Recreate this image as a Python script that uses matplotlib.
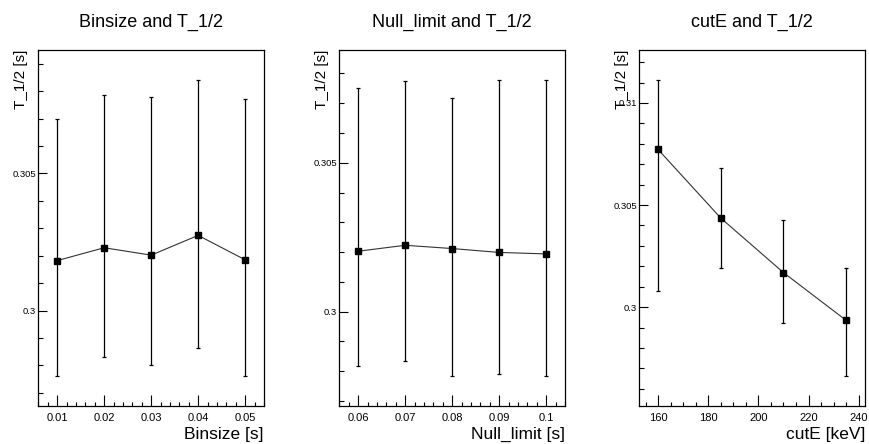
import matplotlib
matplotlib.use("Agg")
import matplotlib.pyplot as plt
from matplotlib.ticker import MultipleLocator, FuncFormatter
import numpy as np

plt.rcParams['font.family'] = ['Liberation Sans', 'DejaVu Sans']

# ---- data ----
binsize = [0.01, 0.02, 0.03, 0.04, 0.05]
t_binsize = [0.30182, 0.30229, 0.30202, 0.30274, 0.30185]
t_binsize_err_up = [0.00518, 0.00558, 0.00575, 0.00568, 0.00588]
t_binsize_err_down = [0.00421, 0.00399, 0.00401, 0.00411, 0.00425]

null_limit = [0.06, 0.07, 0.08, 0.09, 0.10]
t_null = [0.30203, 0.30223, 0.30212, 0.30199, 0.30194]
t_null_err_up = [0.00549, 0.00551, 0.00507, 0.00580, 0.00583]
t_null_err_down = [0.00384, 0.00389, 0.00429, 0.00409, 0.00411]

cutE = [160, 185, 210, 235]
t_cutE = [0.30772, 0.30436, 0.30169, 0.29935]
t_cutE_err_up = [0.00342, 0.00245, 0.00259, 0.00258]
t_cutE_err_down = [0.00694, 0.00243, 0.00247, 0.00274]

titles = ["Binsize and T_1/2", "Null_limit and T_1/2", "cutE and T_1/2"]
xlabels = ["Binsize [s]", "Null_limit [s]", "cutE [keV]"]
ylabel = "T_1/2 [s]"

panels = [
    (binsize, t_binsize, t_binsize_err_up, t_binsize_err_down, 0.01, 0.002),
    (null_limit, t_null, t_null_err_up, t_null_err_down, 0.01, 0.002),
    (cutE, t_cutE, t_cutE_err_up, t_cutE_err_down, 20, 5),
]

fig = plt.figure(figsize=(8.69, 4.44), dpi=100)
lefts = [38.3 / 869, 339.3 / 869, 639.3 / 869]
W = 225.7 / 869
B = 1 - 406 / 444
H = 356 / 444

fmt = FuncFormatter(lambda v, p: f"{round(v, 6):g}")

for i, (x, y, eu, ed, xmaj, xmin) in enumerate(panels):
    ax = fig.add_axes([lefts[i], B, W, H])
    x = np.array(x, float); y = np.array(y); eu = np.array(eu); ed = np.array(ed)
    ax.errorbar(x, y, yerr=[ed, eu], fmt='none', ecolor='black', elinewidth=0.9,
                capsize=1.6, capthick=0.9, zorder=2)
    ax.plot(x, y, '-', color='#333333', lw=0.8, zorder=3)
    ax.plot(x, y, 's', color='black', ms=4.3, zorder=4)
    xs = x.max() - x.min()
    ax.set_xlim(x.min() - 0.1 * xs, x.max() + 0.1 * xs)
    ymax = (y + eu).max(); ymin = (y - ed).min(); ys = ymax - ymin
    ax.set_ylim(ymin - 0.1 * ys, ymax + 0.1 * ys)

    ax.xaxis.set_major_locator(MultipleLocator(xmaj))
    ax.xaxis.set_minor_locator(MultipleLocator(xmin))
    ax.yaxis.set_major_locator(MultipleLocator(0.005))
    ax.yaxis.set_minor_locator(MultipleLocator(0.001))
    ax.xaxis.set_major_formatter(fmt)
    ax.yaxis.set_major_formatter(fmt)

    ax.tick_params(axis='x', which='major', direction='in', length=7.7, width=0.8,
                   labelsize=8, pad=5, top=False)
    ax.tick_params(axis='x', which='minor', direction='in', length=3, width=0.8, top=False)
    ax.tick_params(axis='y', which='major', direction='in', length=6.5, width=0.8,
                   labelsize=6.8, pad=1.8, right=False)
    ax.tick_params(axis='y', which='minor', direction='in', length=3.5, width=0.8, right=False)
    for s in ax.spines.values():
        s.set_linewidth(0.9)

    ax.set_title(titles[i], fontsize=13, pad=17)
    ax.set_xlabel(xlabels[i], fontsize=12.5, loc='right')
    ax.xaxis.set_label_coords(1.0, -0.059)
    ax.set_ylabel(ylabel, fontsize=11, loc='top')
    ax.yaxis.set_label_coords(-0.045, 1.0)

fig.savefig("out.png", dpi=100)
